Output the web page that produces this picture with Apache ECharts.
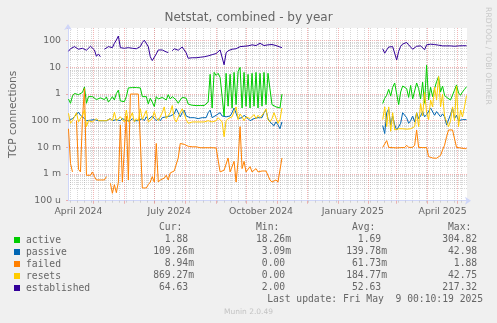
<!DOCTYPE html>
<html>
<head>
<meta charset="utf-8">
<script src="https://cdn.jsdelivr.net/npm/echarts@6/dist/echarts.min.js"></script>
<style>
  html, body { margin: 0; padding: 0; background: #F0F0F0; }
  #chart { width: 497px; height: 323px; }
</style>
</head>
<body>
<div id="chart"></div>
<script>
// Daily netstat samples, one every two days, in two stretches (no data in between).
const seriesNames = ['active', 'passive', 'failed', 'resets', 'established'];
const seriesColors = ['#00CC00', '#0066B3', '#FF8000', '#FFCC00', '#330099'];

// 2024-04-06 .. 2024-11-06
const activeA = [
  0.65, 0.45, 0.85, 1.05, 0.9, 0.95, 0.85, 1.15, 1.85, 0.45,
  0.8, 0.7, 0.8, 0.68, 0.62, 0.7, 0.72, 0.75, 0.62, 0.78,
  0.5, 0.62, 0.8, 0.6, 1.05, 1.4, 0.55, 0.62, 0.52, 0.8,
  1.7, 1.8, 1.75, 1.8, 1.75, 1.8, 1.7, 0.8, 0.7, 0.8,
  0.43, 0.7, 0.5, 0.34, 0.8, 0.65, 0.6, 0.75, 0.85, 0.6,
  0.95, 0.65, 0.8, 0.7, 0.6, 0.45, 0.6, 0.75, 0.72, 0.7,
  0.42, 0.4, 0.38, 0.37, 0.37, 0.37, 0.37, 0.37, 0.37, 0.37,
  0.5, 5.5, 0.3, 6.5, 5.0, 6.0, 4.2, 0.8, 0.15, 6.0,
  0.35, 5.5, 0.3, 6.5, 0.4, 7.0, 10.0, 0.3, 6.5, 0.35,
  5.5, 0.3, 6.0, 0.35, 6.5, 0.3, 6.0, 0.35, 6.5, 0.4,
  6.0, 5.5, 0.4, 0.35, 0.33, 0.34, 0.3, 1.0
];
const passiveA = [
  0.1, 0.11, 0.12, 0.14, 0.17, 0.21, 0.16, 0.19, 0.12, 0.1,
  0.1, 0.105, 0.1, 0.11, 0.1, 0.1, 0.105, 0.1, 0.11, 0.1,
  0.1, 0.12, 0.1, 0.1, 0.11, 0.1, 0.1, 0.12, 0.11, 0.1,
  0.1, 0.1, 0.12, 0.1, 0.11, 0.1, 0.1, 0.12, 0.1, 0.14,
  0.11, 0.1, 0.15, 0.12, 0.1, 0.12, 0.1, 0.13, 0.11, 0.14,
  0.12, 0.15, 0.13, 0.18, 0.28, 0.2, 0.14, 0.2, 0.25, 0.15,
  0.13, 0.13, 0.12, 0.13, 0.13, 0.12, 0.13, 0.13, 0.12, 0.13,
  0.2, 0.25, 0.13, 0.12, 0.16, 0.18, 0.2, 0.15, 0.13, 0.14,
  0.13, 0.15, 0.2, 0.3, 0.33, 0.12, 0.14, 0.13, 0.16, 0.15,
  0.12, 0.1, 0.11, 0.12, 0.11, 0.13, 0.15, 0.13, 0.2, 0.25,
  0.12, 0.09, 0.08, 0.065, 0.09, 0.07, 0.05, 0.09
];
const failedA = [
  0.05, 0.0025, 0.0012, null, 0.1, 0.0015, 0.0012, 0.12, 1.6, 0.0009,
  0.0008, 0.0009, 0.0012, 0.0008, 0.0006, 0.0007, 0.0006, 0.0007, 0.0006, 0.0008,
  null, 0.00045, 0.00019, 0.0004, 0.0002, 0.0005, 0.07, 0.0005, 0.0005, 0.15,
  0.0006, 1.0, 1.0, 1.0, 1.0, 1.0, 1.0, 0.0003, 0.00035, 0.0003,
  0.0004, 0.0005, 0.0008, 0.0005, 0.014, 0.0005, 0.0006, 0.0006, 0.0007, 0.0009,
  0.0006, 0.0011, 0.0012, 0.0013, 0.0012, 0.004, 0.014, 0.015, 0.013, 0.012,
  0.011, 0.011, 0.0105, 0.011, 0.0105, 0.0098, 0.0097, 0.0097, 0.0097, 0.0097,
  0.0097, 0.0097, 0.0097, 0.0097, 0.0095, 0.0095, 0.0012, 0.0012, 0.0014, 0.0013,
  0.004, 0.0012, 0.0014, 0.003, 0.0005, 0.003, 0.06, 0.0016, 0.003, 0.0012,
  0.0014, 0.0019, 0.0012, 0.0014, 0.0016, 0.0012, 0.0014, 0.0013, 0.0012, 0.0013,
  0.0012, 0.0006, 0.0005, 0.0005, 0.0006, 0.0005, 0.00045, 0.004
];
const resetsA = [
  0.19, 0.08, 0.1, 0.11, 0.2, 0.09, 0.08, 0.16, 0.25, 0.06,
  0.1, 0.11, 0.09, 0.1, 0.12, 0.1, 0.11, 0.1, 0.09, 0.1,
  0.1, 0.12, 0.1, 0.21, 0.1, 0.1, 0.14, 0.11, 0.09, 0.25,
  0.09, 0.1, 0.2, 0.09, 0.12, 0.1, 0.28, 0.11, 0.1, 0.24,
  0.09, 0.1, 0.12, 0.22, 0.12, 0.1, 0.09, 0.2, 0.33, 0.12,
  0.14, 0.2, 0.37, 0.12, 0.09, 0.1, 0.2, 0.28, 0.33, 0.11,
  0.08, 0.085, 0.09, 0.085, 0.09, 0.085, 0.09, 0.085, 0.09, 0.09,
  0.1, 0.11, 0.09, 0.09, 0.1, 0.13, 0.11, 0.09, 0.025, 0.1,
  0.12, 0.11, 0.14, 0.22, 0.33, 0.11, 0.18, 0.14, 0.1, 0.14,
  0.16, 0.12, 0.11, 0.17, 0.12, 0.16, 0.13, 0.15, 0.2, 0.28,
  0.11, 0.09, 0.12, 0.2, 0.23, 0.08, 0.11, 0.3
];
const establishedA = [
  40, 50, 58, 60, 55, 48, 55, 52, 46, 44,
  48, 62, 55, 45, 26, 32, 25, null, 48, 52,
  60, 70, 55, 80, 106, 150, 55, 62, 52, 58,
  55, 57, 52, 55, 50, 55, 60, 85, 105, 95,
  60, 25, 18, 19, 32, 45, 52, 45, 44, 38,
  36, null, 42, 50, 48, 44, 52, 58, 66, 35,
  22, 22, 23, 22, 23, 24, 24, 25, 25, 26,
  27, 29, 30, 32, 33, 38, 45, 42, 12.5, 35,
  42, 45, 48, 53, 50, 55, 60, 56, 62, 68,
  64, 60, 70, 72, 66, 75, 80, 72, 66, 74,
  70, 64, 72, 68, 66, 62, 58, 55
];

// 2025-02-15 .. 2025-05-09
const activeB = [
  0.44, 0.7, 0.9, 1.5, 0.85, 1.8, 2.6, 2.8, 0.4, 1.2,
  2.0, 1.9, 1.6, 0.75, 2.1, 0.65, 1.3, 2.6, 1.6, 0.65,
  2.8, 0.45, 12.0, 0.6, 1.8, 0.8, 1.6, 2.9, 4.5, 1.2,
  2.0, 0.9, 0.75, 0.65, 0.6, 0.7, 1.4, 2.2, 1.1, 0.9,
  1.2, 1.5, 1.88
];
const passiveB = [
  0.066, 0.033, 0.2, 0.28, 0.07, 0.15, 0.07, 0.045, 0.045, 0.08,
  0.2, 0.18, 0.13, 0.08, 0.1, 0.15, 0.09, 0.2, 0.12, 0.15,
  0.22, 0.14, 0.17, 0.2, 0.3, 0.33, 0.16, 0.22, 0.2, 0.14,
  0.18, 0.14, 0.07, 0.06, 0.17, 0.3, 0.12, 0.16, 0.1, 0.09,
  0.11, 0.1, 0.109
];
const failedB = [
  0.01, 0.01, 0.018, 0.01, 0.0098, 0.0098, 0.01, 0.0095, 0.0098, 0.0098,
  0.01, 0.0098, 0.012, 0.01, 0.0098, 0.01, 0.012, 0.045, 0.01, 0.0098,
  0.0098, 0.01, 0.0098, 0.0045, 0.0042, 0.004, 0.004, 0.0039, 0.0035, 0.005,
  0.008, 0.012, 0.025, 0.045, 0.045, 0.045, 0.045, 0.01, 0.0095, 0.0095,
  0.0093, 0.009, 0.00894
];
const resetsB = [
  0.11, 0.33, 0.06, 0.33, 0.04, 0.2, 0.045, 0.05, 0.05, 0.048,
  0.05, 0.05, 0.048, 0.05, 0.05, 0.045, 0.06, 0.2, 0.06, 0.44,
  0.15, 1.15, 0.2, 0.11, 0.6, 0.33, 1.8, 0.6, 4.5, 0.33,
  1.0, 0.15, 0.09, 0.06, 0.1, 0.33, 0.1, 2.0, 0.06, 0.25,
  0.14, 0.33, 0.869
];
const establishedB = [
  50, 34, 45, 58, 63, 60, 56, 19, 40, 62,
  75, 82, 86, 70, 60, 48, 55, 62, 58, 64,
  60, 46, 70, 80, 74, 70, 72, 70, 68, 66,
  64, 62, 64, 62, 64, 63, 62, 62, 64, 66,
  65, 66, 64.63
];

// Axis labels
const xLabelDates = ['2024-04-16', '2024-07-16', '2024-10-16', '2025-01-16', '2025-04-16'];
const xTickLabels = ['April 2024', 'July 2024', 'October 2024', 'January 2025', 'April 2025'];
const yTickLabels = ['100 u', '1 m', '10 m', '100 m', '1', '10', '100'];

// Legend statistics
const curText = ['1.88', '109.26m', '8.94m', '869.27m', '64.63'];
const minText = ['18.26m', '3.09m', '0.00', '0.00', '2.00'];
const avgText = ['1.69', '139.78m', '61.73m', '184.77m', '52.63'];
const maxText = ['304.82', '42.98', '1.88', '42.75', '217.32'];

const DAY = 86400000;
const STEP = 2 * DAY;
const startA = Date.UTC(2024, 3, 6);
const startB = Date.UTC(2025, 1, 15);
const xMin = Date.UTC(2024, 3, 5, 12);
const xMax = xMin + 400 * DAY;
const yMin = 1e-4;
const yMax = 300;

function joinSegments(a, b) {
  const out = a.map((v, i) => [startA + i * STEP, v]);
  out.push([Date.UTC(2024, 11, 31), null]);
  b.forEach((v, i) => out.push([startB + i * STEP, v]));
  return out;
}
const dataBySeries = [
  joinSegments(activeA, activeB),
  joinSegments(passiveA, passiveB),
  joinSegments(failedA, failedB),
  joinSegments(resetsA, resetsB),
  joinSegments(establishedA, establishedB)
];

// Grid positions: month starts (major), Mondays (minor), 2..9 per decade (minor)
const monthStarts = [];
for (let m = 4; m <= 16; m++) monthStarts.push(Date.UTC(2024, m, 1));
const mondays = [];
for (let t = Date.UTC(2024, 3, 8); t < xMax; t += 7 * DAY) mondays.push(t);
const minorY = [];
for (let e = -4; e <= 2; e++) {
  for (let k = 2; k <= 9; k++) {
    const v = k * Math.pow(10, e);
    if (v < yMax) minorY.push(+v.toPrecision(3));
  }
}
const labelTimes = xLabelDates.map(d => Date.parse(d + 'T00:00:00Z'));

const MAJOR = 'rgba(232,110,110,0.5)';
const MINOR = 'rgba(150,150,150,0.38)';
const AXIS = '#CFD6F8';
const FONT = '#666666';
const SANS = '"DejaVu Sans"';
const MONO = '"DejaVu Sans Mono"';
const legendFont = '9.7px ' + MONO;

const chart = echarts.init(document.getElementById('chart'), null, { renderer: 'canvas' });

const statCols = [
  { head: 'Cur:', end: 194, vals: curText },
  { head: 'Min:', end: 291, vals: minText },
  { head: 'Avg:', end: 387, vals: avgText },
  { head: 'Max:', end: 483, vals: maxText }
];
const graphics = [];
statCols.forEach(col => {
  graphics.push({
    type: 'text', x: col.end, y: 227.5, silent: true,
    style: { text: col.head + '  ', font: legendFont, fill: FONT, align: 'right', verticalAlign: 'middle' }
  });
  col.vals.forEach((s, r) => {
    const txt = /[a-z]$/.test(s) ? s : s + ' ';
    graphics.push({
      type: 'text', x: col.end, y: 239.7 + r * 12, silent: true,
      style: { text: txt, font: legendFont, fill: FONT, align: 'right', verticalAlign: 'middle' }
    });
  });
});
graphics.push({
  type: 'text', x: 483, y: 299.7, silent: true,
  style: { text: 'Last update: Fri May  9 00:10:19 2025', font: legendFont, fill: FONT, align: 'right', verticalAlign: 'middle' }
});
graphics.push({
  type: 'text', x: 248.5, y: 311.7, silent: true,
  style: { text: 'Munin 2.0.49', font: '7.5px ' + SANS, fill: '#c4c4c4', align: 'center', verticalAlign: 'middle' }
});
graphics.push({
  type: 'text', x: 488, y: 56, rotation: -Math.PI / 2, silent: true,
  style: { text: 'RRDTOOL / TOBI OETIKER', font: '7.6px ' + SANS, fill: '#c8c8c8', align: 'center', verticalAlign: 'middle' }
});

const series = seriesNames.map((name, i) => ({
  name: name,
  type: 'line',
  xAxisIndex: 1,
  yAxisIndex: 1,
  data: dataBySeries[i],
  showSymbol: false,
  symbol: 'none',
  connectNulls: false,
  color: seriesColors[i],
  lineStyle: { width: 1, color: seriesColors[i] },
  z: 3,
  silent: true
}));

chart.setOption({
  backgroundColor: '#F0F0F0',
  animation: false,
  textStyle: { fontFamily: SANS },
  title: {
    text: 'Netstat, combined - by year',
    left: 'center',
    top: 12,
    padding: 0,
    textStyle: { fontFamily: SANS, fontSize: 12, fontWeight: 'normal', color: FONT }
  },
  grid: {
    left: 67, top: 28, width: 400, height: 172.7,
    show: true, backgroundColor: '#FFFFFF', borderWidth: 0
  },
  legend: {
    data: seriesNames,
    orient: 'vertical',
    left: 14,
    top: 234,
    padding: 0,
    itemGap: 0,
    itemWidth: 6,
    itemHeight: 6,
    icon: 'rect',
    selectedMode: false,
    textStyle: { fontFamily: MONO, fontSize: 9.7, color: FONT, lineHeight: 12, padding: [0, 0, 0, 1] }
  },
  xAxis: [
    {
      type: 'value', min: xMin, max: xMax, position: 'bottom',
      axisLine: { show: false },
      axisTick: { show: true, customValues: mondays, length: 2, lineStyle: { color: MINOR } },
      axisLabel: { show: false },
      splitLine: { show: true, lineStyle: { color: MINOR, type: 'dotted', width: 1 } }
    },
    {
      type: 'value', min: xMin, max: xMax, position: 'bottom',
      axisLine: {
        show: true, onZero: false,
        lineStyle: { color: AXIS, width: 1 },
        symbol: ['none', 'arrow'], symbolSize: [6, 6], symbolOffset: [0, 4]
      },
      axisTick: { show: true, customValues: monthStarts, length: 3, lineStyle: { color: MAJOR } },
      axisLabel: {
        show: true,
        customValues: labelTimes,
        margin: 6,
        fontFamily: SANS, fontSize: 9.33, color: FONT,
        formatter: v => {
          const idx = labelTimes.indexOf(+v);
          return idx >= 0 ? xTickLabels[idx] : '';
        }
      },
      splitLine: { show: true, lineStyle: { color: MAJOR, type: 'dotted', width: 1 } }
    }
  ],
  yAxis: [
    {
      type: 'log', logBase: 10, min: yMin, max: yMax, position: 'left',
      axisLine: { show: false },
      axisTick: { show: false, customValues: minorY },
      axisLabel: { show: false },
      splitLine: { show: true, showMaxLine: false, showMinLine: false, lineStyle: { color: MINOR, type: 'dotted', width: 1 } }
    },
    {
      type: 'log', logBase: 10, min: yMin, max: yMax, position: 'left',
      name: 'TCP connections',
      nameLocation: 'middle',
      nameGap: 49,
      nameTextStyle: { fontFamily: SANS, fontSize: 10.67, color: FONT },
      axisLine: {
        show: true, onZero: false,
        lineStyle: { color: AXIS, width: 1 },
        symbol: ['none', 'arrow'], symbolSize: [6, 6], symbolOffset: [0, 4]
      },
      axisTick: { show: true, length: 2, lineStyle: { color: MAJOR } },
      axisLabel: {
        margin: 7, fontFamily: SANS, fontSize: 9.33, color: FONT,
        formatter: v => {
          const l = Math.log10(v);
          const r = Math.round(l);
          return Math.abs(l - r) < 1e-6 && r >= -4 && r <= 2 ? yTickLabels[r + 4] : '';
        }
      },
      splitLine: { show: true, showMaxLine: false, lineStyle: { color: MAJOR, type: 'dotted', width: 1 } }
    }
  ],
  graphic: graphics,
  series: series
});
</script>
</body>
</html>
